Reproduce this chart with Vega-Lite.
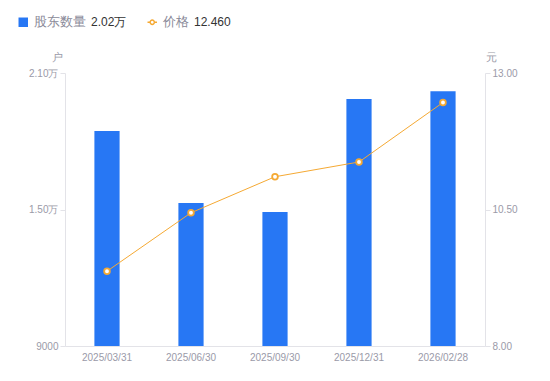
{
  "$schema": "https://vega.github.io/schema/vega-lite/v6.json",
  "width": 420,
  "height": 273,
  "autosize": {"type": "none"},
  "padding": {"left": 65, "top": 73, "right": 65, "bottom": 35},
  "background": "white",
  "config": {
    "view": {"stroke": null},
    "font": "Liberation Sans",
    "axis": {"labelColor": "#9a9aa8", "labelFontSize": 10, "domainColor": "#e3e3e8", "tickColor": "#e3e3e8", "grid": false, "titleColor": "#9a9aa8", "titleFontWeight": "normal", "titleFontSize": 11}
  },
  "data": {
    "values": [
      {"date": "2025/03/31", "holders": 18450, "price": 9.37, "s1": "股东数量", "s2": "价格"},
      {"date": "2025/06/30", "holders": 15290, "price": 10.44, "s1": "股东数量", "s2": "价格"},
      {"date": "2025/09/30", "holders": 14890, "price": 11.10, "s1": "股东数量", "s2": "价格"},
      {"date": "2025/12/31", "holders": 19860, "price": 11.37, "s1": "股东数量", "s2": "价格"},
      {"date": "2026/02/28", "holders": 20200, "price": 12.46, "s1": "股东数量", "s2": "价格"}
    ]
  },
  "encoding": {
    "x": {
      "field": "date", "type": "ordinal",
      "scale": {"paddingInner": 0, "paddingOuter": 0},
      "axis": {"title": null, "labelAngle": 0, "ticks": false, "labelPadding": 6, "domainColor": "#e3e3e8"}
    }
  },
  "layer": [
    {
      "mark": {"type": "bar", "width": {"band": 0.3}, "color": "#2777F4", "clip": true},
      "encoding": {
        "y": {
          "field": "holders", "type": "quantitative",
          "scale": {"domain": [9000, 21000], "zero": false, "nice": false},
          "axis": {"values": [9000, 15000, 21000], "title": "户", "titleAngle": 0, "titleX": -3, "titleY": -11, "titleAlign": "right", "titleBaseline": "bottom", "tickSize": 5, "labelPadding": 2,
            "labelExpr": "datum.value >= 10000 ? format(datum.value/10000, '.2f') + '万' : format(datum.value, 'd')"}
        },
        "fill": {
          "field": "s1", "type": "nominal",
          "scale": {"range": ["#2777F4"]},
          "legend": {"orient": "none", "legendX": -48, "legendY": -57, "title": "2.02万", "titleOrient": "right", "titleColor": "#333333", "titleFontWeight": "normal", "titleFontSize": 12, "titlePadding": 5, "symbolType": "square", "symbolSize": 90, "labelColor": "#8a8a99", "labelFontSize": 12.5, "symbolStrokeWidth": 0}
        }
      }
    },
    {
      "mark": {"type": "line", "color": "#F5A933", "strokeWidth": 1, "point": {"filled": true, "fill": "white", "stroke": "#F5A933", "strokeWidth": 1.8, "size": 32}},
      "encoding": {
        "y": {
          "field": "price", "type": "quantitative",
          "scale": {"domain": [8, 13], "zero": false, "nice": false},
          "axis": {"orient": "right", "values": [8, 10.5, 13], "format": ".2f", "title": "元", "titleAngle": 0, "titleX": 0, "titleY": -11, "titleAlign": "left", "titleBaseline": "bottom", "tickSize": 5, "labelPadding": 2}
        },
        "stroke": {
          "field": "s2", "type": "nominal",
          "scale": {"range": ["#F5A933"]},
          "legend": {"orient": "none", "legendX": 81, "legendY": -57, "title": "12.460", "titleOrient": "right", "titleColor": "#333333", "titleFontWeight": "normal", "titleFontSize": 12, "titlePadding": 5, "symbolType": "M-1,0L-0.45,0M0.45,0L1,0M-0.45,0A0.45,0.45,0,1,1,0.45,0A0.45,0.45,0,1,1,-0.45,0", "symbolSize": 90, "symbolFillColor": "white", "symbolStrokeWidth": 1.5, "labelColor": "#8a8a99", "labelFontSize": 12.5}
        }
      }
    }
  ],
  "resolve": {"scale": {"y": "independent", "fill": "independent", "stroke": "independent"}}
}
